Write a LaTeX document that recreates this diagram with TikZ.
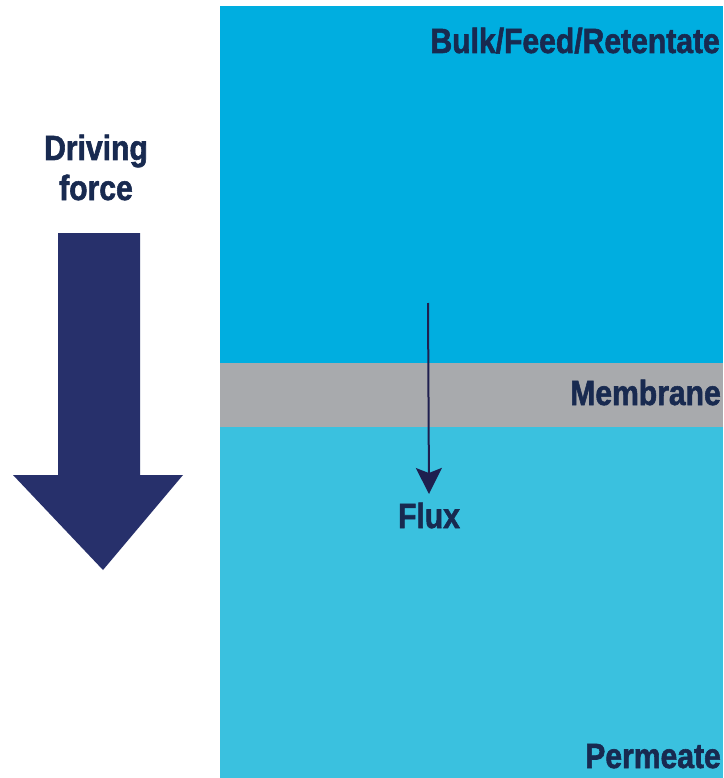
\documentclass[tikz,border=0pt]{standalone}
\usepackage{fontspec}
\newfontfamily\lblfont[FakeStretch=0.86,FakeBold=1.6]{Liberation Sans Bold}
\usetikzlibrary{arrows.meta}
\definecolor{feedblue}{HTML}{00AEE0}
\definecolor{permblue}{HTML}{3AC1DF}
\definecolor{membgray}{HTML}{A8AAAD}
\definecolor{navy}{HTML}{27306B}
\definecolor{fluxnavy}{HTML}{1E1F4F}
\definecolor{txtnavy}{HTML}{182A50}
\tikzset{
  lbl/.style={text=txtnavy, font=\lblfont\fontsize{35}{40}\selectfont, inner sep=0pt},
}
\begin{document}
\begin{tikzpicture}[x=1pt,y=-1pt]
\useasboundingbox (0,0) rectangle (723,778);
\fill[white] (0,0) rectangle (723,778);
% layers
\fill[feedblue] (220,6) rectangle (723,363);
\fill[membgray] (220,363) rectangle (723,427);
\fill[permblue] (220,427) rectangle (723,778);
% labels
\node[lbl, anchor=base east] (bulk) at (720,53) {Bulk/Feed/Retentate};
\node[lbl, anchor=base east] (memb) at (721,405) {Membrane};
\node[lbl, anchor=base east] (perm) at (721,768) {Permeate};
\node[lbl, anchor=base] (flux) at (429,528) {Flux};
\node[lbl, anchor=base] (drive) at (96,160) {Driving};
\node[lbl, anchor=base] (force) at (96,200) {force};
% flux arrow
\coordinate (fs) at (428,303);
\coordinate (fe) at (429,494);
\draw[fluxnavy, line width=2pt, -{Stealth[length=26pt,width=26pt,inset=5pt]}] (fs) -- (fe);
% driving force arrow
\fill[navy] (58,233) -- (140,233) -- (140,475) -- (183,475) -- (103,570) -- (13,475) -- (58,475) -- cycle;
\end{tikzpicture}
\end{document}
